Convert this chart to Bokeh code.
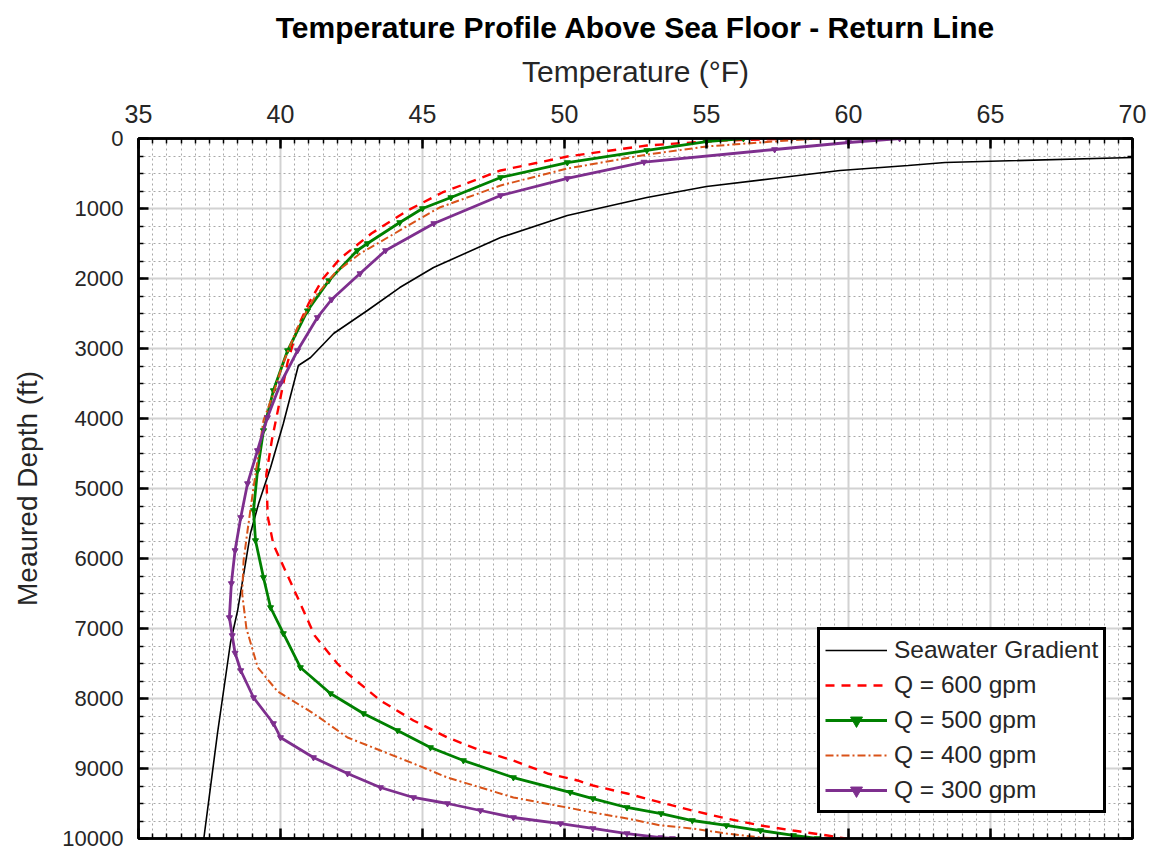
from bokeh.plotting import figure
from bokeh.models import Range1d, LinearAxis, SingleIntervalTicker, Legend, LegendItem
from bokeh.embed import file_html
from bokeh.resources import INLINE

# ---- data: temperature (degF) vs measured depth (ft) ----
sw_temp = [70.0, 63.4, 62.1, 59.7, 57.36, 55.0, 52.9, 51.3, 50.1, 47.75, 45.39, 44.2,
           43.06, 41.87, 41.06, 40.63, 40.1, 39.65, 39.23, 38.94, 38.49, 38.24, 37.78, 37.3]
sw_depth = [271, 343, 386, 457, 571, 686, 843, 990, 1100, 1414, 1843, 2129,
            2457, 2786, 3129, 3243, 4071, 4700, 5214, 5643, 6743, 7200, 8500, 10000]

q600_temp = [58.0, 55.5, 52.9, 50.1, 47.75, 45.7, 44.47, 43.2, 42.1, 41.5, 41.0, 40.6,
             40.25, 39.95, 39.7, 39.5, 39.55, 39.75, 40.2, 40.65, 41.2, 42.0, 42.36, 43.52,
             44.68, 45.88, 47.04, 48.2, 49.4, 50.46, 51.0, 52.2, 53.4, 54.5, 55.7, 56.9,
             58.06, 59.26, 59.9]
q600_depth = [0, 30, 100, 257, 457, 771, 1029, 1357, 1714, 2000, 2350, 2700,
              3200, 3800, 4300, 4800, 5400, 5800, 6200, 6600, 7100, 7500, 7643, 8029,
              8314, 8557, 8743, 8886, 9071, 9171, 9243, 9357, 9486, 9600, 9714, 9814,
              9886, 9957, 10000]

q500_temp = [56.3, 55.0, 52.9, 50.1, 47.75, 46.0, 45.0, 44.2, 43.06, 42.7, 41.7, 40.95,
             40.25, 39.75, 39.4, 39.19, 39.05, 39.12, 39.4, 39.65, 40.1, 40.7, 41.76, 42.92,
             44.12, 45.28, 46.44, 48.2, 50.2, 51.0, 52.2, 53.4, 54.5, 55.7, 56.9, 58.06, 58.9]
q500_depth = [0, 43, 171, 343, 557, 843, 1000, 1200, 1500, 1600, 2030, 2460,
              3029, 3600, 4171, 4743, 5314, 5743, 6271, 6700, 7071, 7557, 7929, 8214,
              8457, 8700, 8886, 9129, 9340, 9429, 9557, 9643, 9743, 9814, 9886, 9957, 10000]

q400_temp = [59.0, 57.36, 55.0, 52.9, 50.1, 47.75, 45.6, 44.2, 42.8, 41.9, 41.2, 40.6,
             40.1, 39.7, 39.4, 39.05, 38.84, 38.7, 38.65, 38.8, 39.2, 39.9, 41.16, 42.36,
             43.52, 44.68, 45.88, 47.04, 48.2, 50.2, 51.0, 52.2, 53.4, 54.5, 55.7, 56.9, 57.5]
q400_depth = [0, 43, 114, 230, 429, 671, 986, 1314, 1643, 1929, 2271, 2700,
              3200, 3700, 4029, 4986, 5600, 6029, 6500, 7000, 7557, 7900, 8214, 8557,
              8743, 8929, 9129, 9271, 9414, 9565, 9629, 9714, 9814, 9857, 9929, 9986, 10000]

q300_temp = [61.8, 60.0, 57.4, 52.8, 50.1, 47.75, 45.4, 43.7, 42.8, 41.8, 41.3, 40.6,
             40.0, 39.54, 39.19, 38.84, 38.6, 38.4, 38.27, 38.2, 38.3, 38.4, 38.6, 39.05,
             39.75, 40.0, 41.16, 42.36, 43.52, 44.68, 45.88, 47.04, 48.2, 49.86, 51.0, 52.2,
             53.4, 53.8]
q300_depth = [0, 57, 157, 336, 571, 814, 1214, 1600, 1929, 2300, 2557, 3029,
              3500, 3986, 4457, 4929, 5414, 5886, 6357, 6843, 7100, 7350, 7600, 7986,
              8357, 8557, 8843, 9071, 9271, 9414, 9500, 9600, 9700, 9786, 9857, 9929,
              9986, 10000]

title_text = "Temperature Profile Above Sea Floor - Return Line"
x_label = "Temperature (\u00b0F)"
y_label = "Meaured Depth (ft)"

FONT = "Liberation Sans"
TXT = "#262626"

p = figure(width=1154, height=850, output_backend="svg", toolbar_location=None,
           x_range=Range1d(35, 70), y_range=Range1d(10000, 0),
           x_axis_location="above", title=title_text,
           min_border_left=138, min_border_right=22,
           min_border_top=138, min_border_bottom=12)

p.title.align = "center"
p.title.text_font = FONT
p.title.text_font_size = "30px"
p.title.text_font_style = "bold"
p.title.text_color = "black"
p.title.standoff = 16

x_ticker = SingleIntervalTicker(interval=5, num_minor_ticks=10)
y_ticker = SingleIntervalTicker(interval=1000, num_minor_ticks=4)

# mirrored axes on the bottom and right carry ticks only
p.add_layout(LinearAxis(), "below")
p.add_layout(LinearAxis(), "right")

for ax in p.xaxis:
    ax.ticker = x_ticker
for ax in p.yaxis:
    ax.ticker = y_ticker

for ax in list(p.xaxis) + list(p.yaxis):
    ax.major_tick_in = 10
    ax.major_tick_out = 0
    ax.minor_tick_in = 5
    ax.minor_tick_out = 0
    ax.major_tick_line_width = 2.5
    ax.minor_tick_line_width = 1.5
    ax.major_tick_line_color = "black"
    ax.minor_tick_line_color = "black"
    ax.axis_line_color = "black"
    ax.axis_line_width = 2.5
    ax.major_label_text_color = TXT
    ax.axis_label_text_color = TXT
    ax.axis_label_text_font_style = "normal"

top_ax = p.xaxis[0]
left_ax = p.yaxis[0]
bottom_ax = p.xaxis[1]
right_ax = p.yaxis[1]

top_ax.axis_label = x_label
top_ax.axis_label_text_font = FONT
top_ax.axis_label_text_font_size = "30px"
top_ax.axis_label_standoff = 14
top_ax.major_label_text_font = FONT
top_ax.major_label_text_font_size = "25px"
top_ax.major_label_standoff = 16

left_ax.axis_label = y_label
left_ax.axis_label_text_font = FONT
left_ax.axis_label_text_font_size = "28px"
left_ax.axis_label_standoff = 16
left_ax.major_label_text_font = FONT
left_ax.major_label_text_font_size = "22px"
left_ax.major_label_standoff = 15

for ax in (bottom_ax, right_ax):
    ax.major_label_text_font_size = "1px"
    ax.major_label_text_color = None
    ax.major_label_standoff = 0

p.outline_line_color = "black"
p.outline_line_width = 2.5

p.xgrid.ticker = x_ticker
p.ygrid.ticker = y_ticker
for g in (p.xgrid, p.ygrid):
    g.grid_line_color = "#d2d2d2"
    g.grid_line_width = 2
    g.minor_grid_line_color = "#a8a8a8"
    g.minor_grid_line_width = 1
    g.minor_grid_line_dash = "2 3"

# ---- curves ----
r_sw = p.line(sw_temp, sw_depth, line_color="black", line_width=1.6)
r600 = p.line(q600_temp, q600_depth, line_color="#ff0000", line_width=2.4, line_dash="9 7")
r500 = p.line(q500_temp, q500_depth, line_color="#008000", line_width=2.8)
r500m = p.scatter(q500_temp, q500_depth, marker="inverted_triangle", size=6,
                  fill_color="#008000", line_color="#008000")
r400 = p.line(q400_temp, q400_depth, line_color="#d95319", line_width=2, line_dash="8 3 2 3")
r300 = p.line(q300_temp, q300_depth, line_color="#7e2f8e", line_width=2.8)
r300m = p.scatter(q300_temp, q300_depth, marker="inverted_triangle", size=6,
                  fill_color="#7e2f8e", line_color="#7e2f8e")

legend = Legend(items=[
    LegendItem(label="Seawater Gradient", renderers=[r_sw]),
    LegendItem(label="Q = 600 gpm", renderers=[r600]),
    LegendItem(label="Q = 500 gpm", renderers=[r500, r500m]),
    LegendItem(label="Q = 400 gpm", renderers=[r400]),
    LegendItem(label="Q = 300 gpm", renderers=[r300, r300m]),
], location=(679, 25))
legend.label_text_font = FONT
legend.label_text_font_size = "24.5px"
legend.label_text_color = TXT
legend.glyph_width = 62
legend.glyph_height = 30
legend.label_height = 30
legend.label_standoff = 7
legend.spacing = 5
legend.padding = 5
legend.margin = 0
legend.border_line_color = "black"
legend.border_line_alpha = 1.0
legend.border_line_width = 3
legend.background_fill_color = "white"
legend.background_fill_alpha = 1.0
p.add_layout(legend)

open("out.html", "w").write(file_html(p, INLINE))
